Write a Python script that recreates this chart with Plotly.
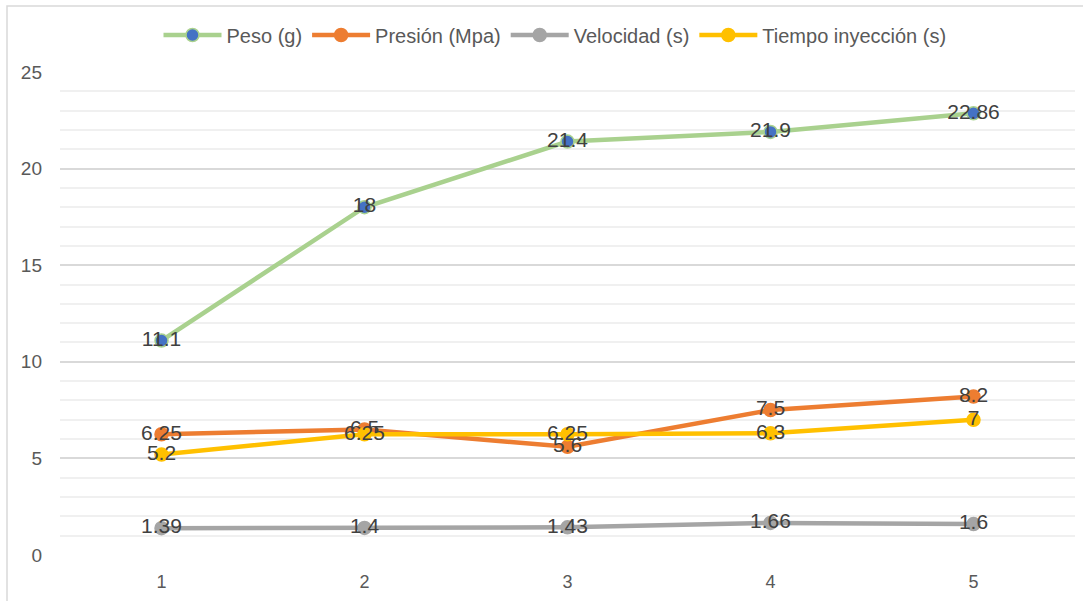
import plotly.graph_objects as go

categories = [1, 2, 3, 4, 5]
peso = [11.1, 18, 21.4, 21.9, 22.86]
presion = [6.25, 6.5, 5.6, 7.5, 8.2]
velocidad = [1.39, 1.4, 1.43, 1.66, 1.6]
tiempo = [5.2, 6.25, 6.25, 6.3, 7]
series_names = ["Peso (g)", "Presión (Mpa)", "Velocidad (s)", "Tiempo inyección (s)"]

FONT = "Arial, Liberation Sans, sans-serif"
W, H = 1083, 601
L, R, T, B = 60, 8, 72, 46
pw, ph = W - L - R, H - T - B

fig = go.Figure()
specs = [
    (peso, series_names[0], "#A9D18E", "#4472C4"),
    (presion, series_names[1], "#ED7D31", "#ED7D31"),
    (velocidad, series_names[2], "#A5A5A5", "#A5A5A5"),
    (tiempo, series_names[3], "#FFC000", "#FFC000"),
]
for vals, name, lc, mc in specs:
    fig.add_trace(go.Scatter(
        x=categories, y=vals, name=name,
        mode="lines+markers+text",
        text=[str(v) for v in vals],
        textposition="middle center",
        textfont=dict(family=FONT, size=21, color="#404040"),
        line=dict(color=lc, width=4.5),
        marker=dict(size=13, color=mc, line=dict(color=lc, width=1.5)),
        cliponaxis=False,
    ))

fig.update_layout(
    width=W, height=H,
    margin=dict(l=L, r=R, t=T, b=B),
    paper_bgcolor="white", plot_bgcolor="white",
    font=dict(family=FONT, color="#595959"),
    showlegend=True,
    legend=dict(
        orientation="h", x=(555 - L) / pw, xanchor="center",
        y=(H - B - 35) / ph, yanchor="middle",
        font=dict(family=FONT, size=20, color="#595959"),
        bgcolor="rgba(0,0,0,0)",
        itemwidth=58,
    ),
    xaxis=dict(
        range=[0.5, 5.5], tickvals=categories, ticktext=[str(c) for c in categories],
        showgrid=False, zeroline=False, showline=False,
        tickfont=dict(family=FONT, size=18, color="#595959"),
        ticks="", ticklabelstandoff=14,
    ),
    yaxis=dict(
        range=[0, 25], dtick=5, tick0=0,
        showgrid=True, gridcolor="#D9D9D9", gridwidth=1.5,
        zeroline=False, showline=False,
        tickfont=dict(family=FONT, size=19, color="#595959"),
        ticks="", ticklabelstandoff=17,
        minor=dict(dtick=1, showgrid=True, gridcolor="#F0F0F0", gridwidth=1.5),
    ),
    shapes=[dict(
        type="rect", xref="paper", yref="paper",
        x0=(7 - L) / pw, x1=(W + 20 - L) / pw,
        y0=-0.3, y1=(H - B - 6) / ph,
        line=dict(color="#D9D9D9", width=1.5), fillcolor="rgba(0,0,0,0)",
        layer="below",
    )],
)

fig.write_html(
    "out.html",
    config={"displayModeBar": False},
    post_script="document.body.style.margin='0';document.body.style.overflow='hidden';",
)
